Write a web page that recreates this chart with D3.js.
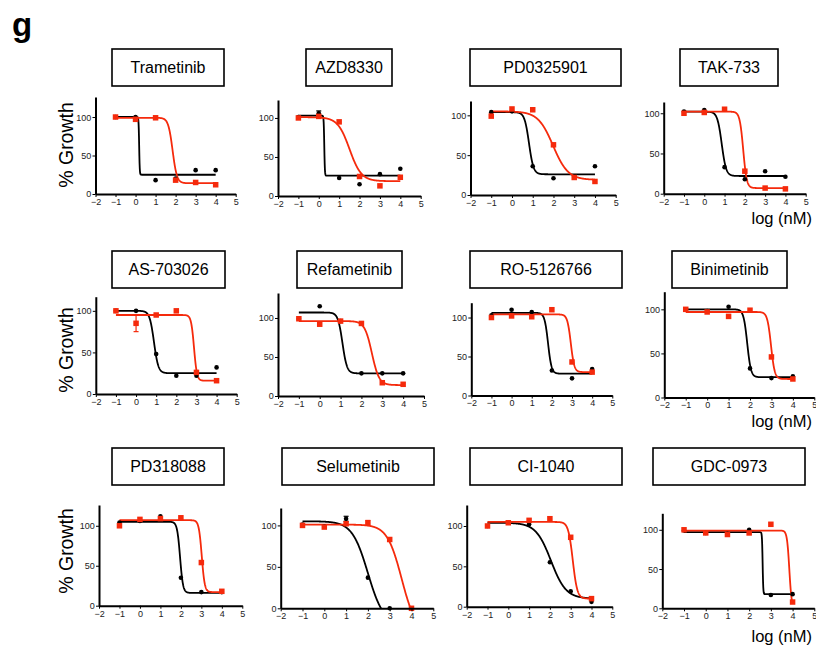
<!DOCTYPE html>
<html>
<head>
<meta charset="utf-8">
<script src="https://cdn.jsdelivr.net/npm/d3@7"></script>
<style>
  html, body { margin: 0; padding: 0; background: #fff; }
  svg { display: block; }
</style>
</head>
<body>
<svg id="chart" width="816" height="646"></svg>
<script>
// ---------------- DATA ----------------
const drugs = ["Trametinib","AZD8330","PD0325901","TAK-733",
               "AS-703026","Refametinib","RO-5126766","Binimetinib",
               "PD318088","Selumetinib","CI-1040","GDC-0973"];
const doses = [-1, 0, 1, 2, 3, 4];           // log (nM)
const xTicks = [-2, -1, 0, 1, 2, 3, 4, 5];
const yTicks = [0, 50, 100];
const yMax = [126, 123, 118, 114, 117, 132, 119, 120, 126, 121, 126, 121];

// % growth, black (circles) series
const blackValues = [
  [100, 100, 18, 20, 31, 31],
  [101, 106, 23, 15, 28, 35],
  [104, 105, 36, 21, 23, 36],
  [102, 104, 33, 18, 28, 21],
  [100, 100, 48, 22, 22, 32],
  [99, 115, 96, 29, 29, 29],
  [103, 110, 107, 32, 22, 34],
  [100, 98, 103, 33, 22, 24],
  [104, 106, 112, 35, 17, 17],
  [101, 99, 108, 37, 0, 0],
  [100, 104, 102, 55, 19, 6],
  [99, 96, 95, 100, 17, 18]
];
// % growth, red (squares) series
const redValues = [
  [100, 97, 99, 18, 15, 12],
  [100, 102, 95, 25, 13, 24],
  [99, 108, 107, 63, 22, 17],
  [100, 101, 105, 28, 7, 6],
  [100, 85, 95, 100, 26, 16],
  [99, 92, 96, 93, 17, 15],
  [100, 102, 101, 110, 43, 30],
  [100, 97, 92, 99, 46, 21],
  [100, 108, 109, 110, 54, 18],
  [100, 98, 102, 103, 83, 0],
  [100, 104, 107, 109, 86, 10],
  [100, 96, 94, 96, 107, 8]
];
// fitted 4-parameter logistic curves: [top, bottom, logIC50, hill]
const blackFit = [
  [100, 25, 0.18, 30], [103, 26, 0.27, 30], [104, 26, 0.82, 4], [102, 22, 0.86, 4],
  [100, 25, 0.89, 4], [107, 29, 1.09, 4], [106, 28, 1.81, 5], [100, 23, 1.87, 5],
  [105, 16, 1.96, 6], [105, -20, 2.0, 1.2], [104, 10, 2.05, 1.2], [97, 18, 2.62, 30]
];
const redFit = [
  [99, 14, 1.85, 4], [101, 19, 1.51, 1.5], [105, 19, 1.98, 1.2], [102, 7, 1.92, 5],
  [95, 16, 2.88, 6], [96, 14, 2.5, 2.5], [104, 30, 2.94, 5], [97, 21, 2.98, 5],
  [107, 17, 3.02, 6], [101, -30, 3.55, 1.3], [105, 10, 3.1, 4], [99, 0, 3.85, 8]
];
// error bars: [panel index, series, dose, +/- error]
const errorBars = [
  [1, "black", 0, 3],
  [4, "red", 0, 10],
  [9, "black", 1, 3],
  [9, "red", 2, 3]
];
const yLabel = "% Growth";
const xLabel = "log (nM)";
const panelLetter = "g";

// ---------------- LAYOUT ----------------
const layout = [
  {l: 95.5, r: 235.7, b: 194, t: 97},
  {l: 278, r: 420.7, b: 196, t: 100},
  {l: 470.5, r: 615.7, b: 195, t: 101},
  {l: 663.7, r: 805.7, b: 193.7, t: 102},
  {l: 95.8, r: 236.7, b: 394, t: 296.7},
  {l: 278, r: 424, b: 396, t: 293},
  {l: 471.3, r: 612.3, b: 395.5, t: 302.7},
  {l: 664.3, r: 814.3, b: 397.5, t: 291.7},
  {l: 99, r: 242.3, b: 605.7, t: 505},
  {l: 280.7, r: 433.3, b: 608.3, t: 508},
  {l: 466.7, r: 612.3, b: 606.7, t: 505},
  {l: 662.3, r: 814.3, b: 608.3, t: 513.3}
];
const boxes = [
  [112, 224, 49, 86], [306, 392, 49, 86], [470, 621, 49, 86], [680, 778, 49, 86],
  [112, 225, 251, 288], [297, 402, 251, 288], [470, 622, 251, 288], [672, 787, 251, 288],
  [112, 224, 448, 485], [282, 434, 448, 485], [470, 622, 448, 485], [653, 805, 448, 485]
];
const RED = "#f52a0c";
const BLACK = "#000";
const FONT = "'Liberation Sans', Arial, Helvetica, sans-serif";

const svg = d3.select("#chart");

svg.append("text").attr("x", 12).attr("y", 36)
  .attr("font-family", FONT).attr("font-weight", "bold").attr("font-size", 33)
  .text(panelLetter);

// y labels (one per row)
[145, 350, 551].forEach(cy => {
  svg.append("text")
    .attr("transform", `translate(73,${cy}) rotate(-90)`)
    .attr("text-anchor", "middle")
    .attr("font-family", FONT).attr("font-size", 19.5)
    .text(yLabel);
});
// x labels (right column)
[224, 427, 642].forEach(by => {
  svg.append("text").attr("x", 812).attr("y", by)
    .attr("text-anchor", "end")
    .attr("font-family", FONT).attr("font-size", 16.5)
    .text(xLabel);
});

const logistic = (p, x) => p[1] + (p[0] - p[1]) / (1 + Math.pow(10, (x - p[2]) * p[3]));

drugs.forEach((name, i) => {
  const L = layout[i];
  const x = d3.scaleLinear().domain([xTicks[0], xTicks[xTicks.length - 1]]).range([L.l, L.r]);
  const y = d3.scaleLinear().domain([0, yMax[i]]).range([L.b, L.t]);
  const g = svg.append("g");

  // title box
  const B = boxes[i];
  g.append("rect").attr("x", B[0]).attr("y", B[2])
    .attr("width", B[1] - B[0]).attr("height", B[3] - B[2])
    .attr("fill", "none").attr("stroke", "#000").attr("stroke-width", 1.6);
  g.append("text").attr("x", (B[0] + B[1]) / 2).attr("y", (B[2] + B[3]) / 2 + 5.5)
    .attr("text-anchor", "middle").attr("font-family", FONT).attr("font-size", 16)
    .text(name);

  // clip
  const cid = "clip" + i;
  svg.append("clipPath").attr("id", cid).append("rect")
    .attr("x", L.l).attr("y", L.t - 20).attr("width", L.r - L.l).attr("height", L.b - L.t + 20);

  // curves
  const samples = d3.range(0, 501).map(k => -1 + 5 * k / 500);
  const line = d3.line().x(d => x(d[0])).y(d => y(d[1]));
  [[blackFit[i], BLACK], [redFit[i], RED]].forEach(([p, c]) => {
    g.append("path")
      .attr("d", line(samples.map(s => [s, Math.max(logistic(p, s), -5)])))
      .attr("fill", "none").attr("stroke", c).attr("stroke-width", 1.8)
      .attr("clip-path", `url(#${cid})`);
  });

  // error bars
  errorBars.filter(e => e[0] === i).forEach(e => {
    const vals = e[1] === "black" ? blackValues[i] : redValues[i];
    const v = vals[doses.indexOf(e[2])];
    const c = e[1] === "black" ? BLACK : RED;
    const cx = x(e[2]);
    g.append("line").attr("x1", cx).attr("x2", cx).attr("y1", y(v - e[3])).attr("y2", y(v + e[3]))
      .attr("stroke", c).attr("stroke-width", 1.2);
    [v - e[3], v + e[3]].forEach(w => {
      g.append("line").attr("x1", cx - 2.5).attr("x2", cx + 2.5).attr("y1", y(w)).attr("y2", y(w))
        .attr("stroke", c).attr("stroke-width", 1.2);
    });
  });

  // black points
  g.selectAll(".bp").data(doses.map((d, k) => [d, blackValues[i][k]])).enter()
    .append("circle").attr("cx", d => x(d[0])).attr("cy", d => y(d[1]))
    .attr("r", 2.3).attr("fill", BLACK);
  // red squares
  const s = 5.5;
  g.selectAll(".rp").data(doses.map((d, k) => [d, redValues[i][k]])).enter()
    .append("rect").attr("x", d => x(d[0]) - s / 2).attr("y", d => y(d[1]) - s / 2)
    .attr("width", s).attr("height", s).attr("fill", RED);

  // axes
  const ax = g.append("g").attr("transform", `translate(0,${L.b})`)
    .call(d3.axisBottom(x).tickValues(xTicks).tickSize(3).tickSizeOuter(0).tickFormat(d3.format("d")));
  const ay = g.append("g").attr("transform", `translate(${L.l},0)`)
    .call(d3.axisLeft(y).tickValues(yTicks).tickSize(3).tickSizeOuter(0));
  [ax, ay].forEach(a => {
    a.select(".domain").attr("stroke-width", 2);
    a.selectAll(".tick line").attr("stroke-width", 1);
    a.selectAll("text").attr("font-family", "'Liberation Sans Narrow', 'Liberation Sans', Arial, sans-serif")
      .attr("font-size", 9).attr("fill", "#222");
  });
  ax.selectAll("text").attr("dy", "0.55em");
  ay.selectAll("text").attr("dx", "0.2em").attr("dy", "0.33em");
});
</script>
</body>
</html>
